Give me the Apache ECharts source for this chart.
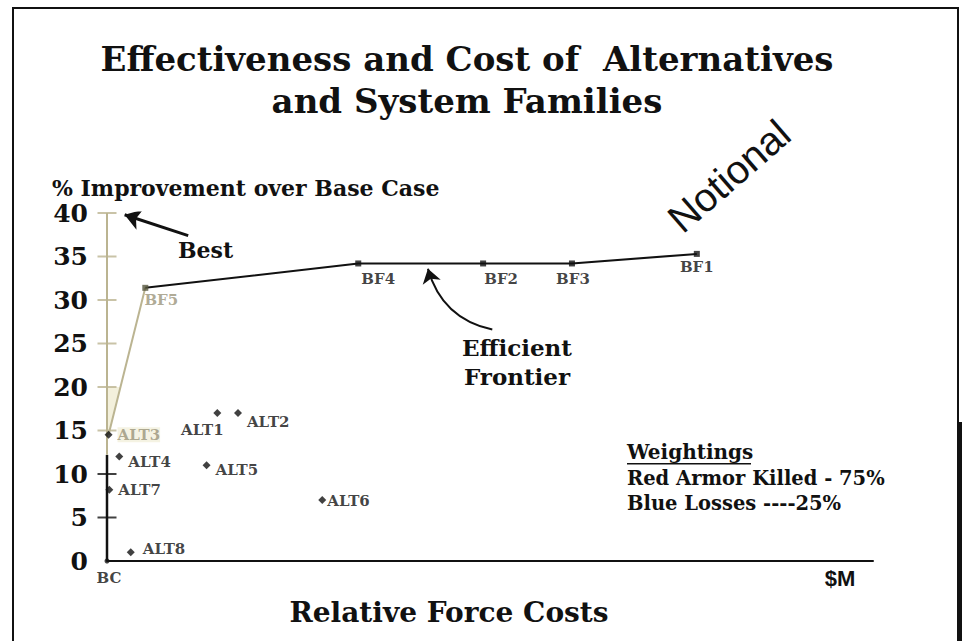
<!DOCTYPE html>
<html><head><meta charset="utf-8">
<script src="https://cdn.jsdelivr.net/npm/echarts@6/dist/echarts.min.js"></script>
<style>html,body{margin:0;padding:0;background:#fff}#c{width:962px;height:641px}</style>
</head><body><div id="c"></div>
<script>
// ---- data ----
const altNames = ['ALT1','ALT2','ALT3','ALT4','ALT5','ALT6','ALT7','ALT8'];
const altCost = [14.4, 17.1, 0.2, 1.6, 13.0, 28.1, 0.3, 3.1];
const altImprovement = [17, 17, 14.5, 12, 11, 7, 8.2, 1];
const bfNames = ['BF5','BF4','BF2','BF3','BF1'];
const bfCost = [5.0, 32.8, 49.1, 60.7, 77.0];
const bfImprovement = [31.4, 34.2, 34.2, 34.2, 35.3];
const baseName = 'BC';
const baseCost = 0, baseImprovement = 0;
const yTicks = [0, 5, 10, 15, 20, 25, 30, 35, 40];

// ---- styles ----
const SERIF = '"DejaVu Serif", serif';
const TAN = '#bbb491';
const TAN_TEXT = '#9a947a';
const CREAM = '#f3f0dc';
const altLabelStyle = {
  ALT1: {position: 'bottom', offset: [-15, 0]},
  ALT2: {position: 'right', offset: [0, 9]},
  ALT3: {position: 'right', offset: [0, 0], color: TAN_TEXT, backgroundColor: CREAM},
  ALT4: {position: 'right', offset: [0, 5]},
  ALT5: {position: 'right', offset: [0, 5]},
  ALT6: {position: 'right', offset: [-4, 1]},
  ALT7: {position: 'right', offset: [0, 0]},
  ALT8: {position: 'right', offset: [3, -3]}
};
const bfLabelStyle = {
  BF5: {position: 'bottom', offset: [16, -3], color: TAN_TEXT},
  BF4: {position: 'bottom', offset: [20, 0]},
  BF2: {position: 'bottom', offset: [18, 0]},
  BF3: {position: 'bottom', offset: [1, 0]},
  BF1: {position: 'bottom', offset: [0, -2]}
};

const altData = altNames.map((n, i) => ({
  name: n, value: [altCost[i], altImprovement[i]],
  label: Object.assign({show: true}, altLabelStyle[n])
}));
const bfData = bfNames.map((n, i) => ({
  name: n, value: [bfCost[i], bfImprovement[i]],
  itemStyle: n === 'BF5' ? {color: '#55553c'} : undefined,
  label: Object.assign({show: true}, bfLabelStyle[n])
}));
const iA3 = altNames.indexOf('ALT3');
const frontierStart = [altCost[iA3], altImprovement[iA3]];
const tanSeg = [frontierStart, [bfCost[0], bfImprovement[0]]];
const blackSeg = bfNames.map((n, i) => [bfCost[i], bfImprovement[i]]);
// cream wedge between axis and rising frontier segment, 15..20
const wedgeTop = 20;
const wedgeX = frontierStart[0] + (wedgeTop - frontierStart[1]) / (bfImprovement[0] - frontierStart[1]) * (bfCost[0] - frontierStart[0]);

const labelFont = {fontFamily: SERIF, fontWeight: 'bold', fontSize: 15, color: '#111'};

const chart = echarts.init(document.getElementById('c'), null, {renderer: 'svg'});
chart.setOption({
  animation: false,
  backgroundColor: '#fff',
  grid: {left: 107, right: 89, top: 213, bottom: 80},
  xAxis: {
    type: 'value', min: 0, max: 100,
    axisLine: {show: true, lineStyle: {color: '#111', width: 2}},
    axisTick: {show: false}, axisLabel: {show: false}, splitLine: {show: false}
  },
  yAxis: {
    type: 'value', min: 0, max: 40, interval: 5,
    axisLine: {show: false}, axisTick: {show: false}, splitLine: {show: false},
    axisLabel: {fontFamily: SERIF, fontWeight: 'bold', fontSize: 25, color: '#111', margin: 19}
  },
  series: [
    { // cream wedge
      type: 'custom', silent: true, z: 1,
      data: [[0, 15]],
      renderItem: (params, api) => ({
        type: 'polygon',
        shape: {points: [api.coord([0, 15]), api.coord([0, wedgeTop]), api.coord([wedgeX, wedgeTop]), api.coord(frontierStart)]},
        style: {fill: CREAM}
      })
    },
    { // y axis line, black lower part
      type: 'line', data: [[0, 0], [0, 12.2]], symbol: 'none', silent: true, z: 3,
      lineStyle: {color: '#111', width: 2.5}
    },
    { // y axis line, tan upper part
      type: 'line', data: [[0, 12.2], [0, 40]], symbol: 'none', silent: true, z: 3,
      lineStyle: {color: TAN, width: 2}
    },
    { // y ticks crossing the axis
      type: 'scatter', silent: true, z: 3,
      data: yTicks.filter(v => v > 0).map(v => ({value: [0, v], itemStyle: {color: v >= 15 ? TAN : '#111'}})),
      symbol: 'rect', symbolSize: [19, 2]
    },
    { // rising frontier part
      type: 'line', data: tanSeg, symbol: 'none', silent: true, z: 4,
      lineStyle: {color: TAN, width: 2}
    },
    { // efficient frontier
      type: 'line', data: blackSeg, symbol: 'none', silent: true, z: 4,
      lineStyle: {color: '#111', width: 2}
    },
    { // "Best" arrow
      type: 'lines', coordinateSystem: 'cartesian2d', silent: true, z: 4,
      symbol: ['none', 'arrow'], symbolSize: 16,
      lineStyle: {color: '#111', width: 3, opacity: 1, curveness: 0},
      data: [{coords: [[10.6, 37.4], [2.3, 39.8]]}]
    },
    { // curved "Efficient Frontier" arrow
      type: 'lines', coordinateSystem: 'cartesian2d', silent: true, z: 4,
      symbol: ['none', 'arrow'], symbolSize: 14,
      lineStyle: {color: '#111', width: 2, opacity: 1, curveness: 0.3},
      data: [{coords: [[50.3, 26.6], [41.9, 33.6]]}]
    },
    {
      type: 'scatter', data: bfData, symbol: 'rect', symbolSize: 6, z: 5,
      itemStyle: {color: '#111'},
      label: Object.assign({formatter: p => p.name}, labelFont)
    },
    {
      type: 'scatter', data: altData, symbol: 'diamond', symbolSize: 8, z: 5,
      itemStyle: {color: '#111'},
      label: Object.assign({formatter: p => p.name}, labelFont)
    },
    {
      type: 'scatter', z: 5,
      data: [{name: baseName, value: [baseCost, baseImprovement]}],
      symbol: 'circle', symbolSize: 5, itemStyle: {color: '#111'},
      label: Object.assign({show: true, position: 'bottom', offset: [2, 2], formatter: p => p.name}, labelFont)
    }
  ],
  graphic: [
    {type: 'rect', shape: {x: 13, y: 8, width: 945, height: 700}, style: {fill: 'none', stroke: '#111', lineWidth: 2}, z: 0, silent: true},
    {type: 'rect', shape: {x: 958, y: 422, width: 4, height: 219}, style: {fill: '#111'}, silent: true},
    {type: 'text', x: 467, y: 59, style: {text: 'Effectiveness and Cost of  Alternatives', font: 'bold 34px "DejaVu Serif", serif', fill: '#111', textAlign: 'center', textVerticalAlign: 'middle'}},
    {type: 'text', x: 467, y: 101, style: {text: 'and System Families', font: 'bold 34px "DejaVu Serif", serif', fill: '#111', textAlign: 'center', textVerticalAlign: 'middle'}},
    {type: 'text', x: 52, y: 188, style: {text: '% Improvement over Base Case', font: 'bold 22px "DejaVu Serif", serif', fill: '#111', textAlign: 'left', textVerticalAlign: 'middle'}},
    {type: 'text', x: 178, y: 250, style: {text: 'Best', font: 'bold 22px "DejaVu Serif", serif', fill: '#111', textAlign: 'left', textVerticalAlign: 'middle'}},
    {type: 'text', x: 517, y: 347, style: {text: 'Efficient', font: 'bold 23px "DejaVu Serif", serif', fill: '#111', textAlign: 'center', textVerticalAlign: 'middle'}},
    {type: 'text', x: 517, y: 376, style: {text: 'Frontier', font: 'bold 23px "DejaVu Serif", serif', fill: '#111', textAlign: 'center', textVerticalAlign: 'middle'}},
    {type: 'text', x: 627, y: 452, style: {text: 'Weightings', font: 'bold 20px "DejaVu Serif", serif', fill: '#111', textAlign: 'left', textVerticalAlign: 'middle'}},
    {type: 'rect', shape: {x: 627, y: 463, width: 124, height: 1.5}, style: {fill: '#111'}},
    {type: 'text', x: 627, y: 478, style: {text: 'Red Armor Killed - 75%', font: 'bold 19.5px "DejaVu Serif", serif', fill: '#111', textAlign: 'left', textVerticalAlign: 'middle'}},
    {type: 'text', x: 627, y: 503, style: {text: 'Blue Losses ----25%', font: 'bold 19.5px "DejaVu Serif", serif', fill: '#111', textAlign: 'left', textVerticalAlign: 'middle'}},
    {type: 'text', x: 840, y: 578, style: {text: '$M', font: 'bold 22px "Liberation Sans", Arial, sans-serif', fill: '#111', textAlign: 'center', textVerticalAlign: 'middle'}},
    {type: 'text', x: 449, y: 612, style: {text: 'Relative Force Costs', font: 'bold 28px "DejaVu Serif", serif', fill: '#111', textAlign: 'center', textVerticalAlign: 'middle'}},
    {type: 'text', x: 729, y: 176, rotation: 41 * Math.PI / 180, style: {text: 'Notional', font: '40px "Liberation Sans", Arial, sans-serif', fill: '#111', textAlign: 'center', textVerticalAlign: 'middle'}}
  ]
});
</script></body></html>
